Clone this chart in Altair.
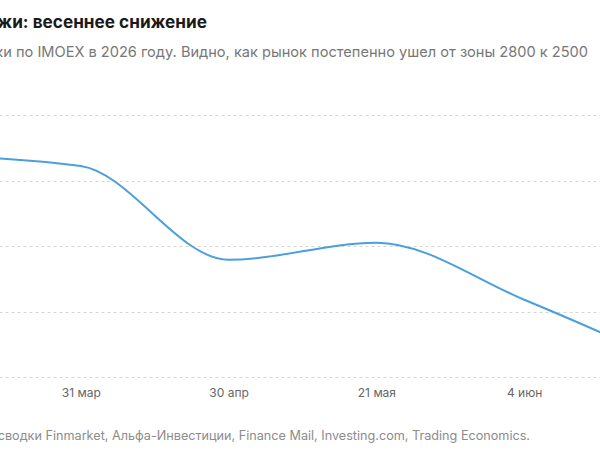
import altair as alt
import pandas as pd

# Data (points at the left/right edges lie outside the visible crop)
dates = ["2 мар", "31 мар", "30 апр", "21 мая", "4 июн", "18 июн"]
values = [2838, 2822, 2679, 2705, 2618, 2520]
y_ticks = [2500, 2600, 2700, 2800, 2900]

title_text = "Индекс Мосбиржи: весеннее снижение"
subtitle_text = "Котировки по IMOEX в 2026 году. Видно, как рынок постепенно ушел от зоны 2800 к 2500"
footer_text = "Источники: сводки Finmarket, Альфа-Инвестиции, Finance Mail, Investing.com, Trading Economics."

FONT = "Inter"
df = pd.DataFrame({"date": dates, "value": values})

x_enc = alt.X(
    "date:O",
    sort=dates,
    scale=alt.Scale(type="point", range=[-67, 672], padding=0),
    axis=alt.Axis(
        title=None, domain=False, ticks=False, grid=False, labelAngle=0,
        labelFontSize=12, labelColor="#666666", labelPadding=10, labelFont=FONT,
        labelOverlap=False,
    ),
)
y_enc = alt.Y(
    "value:Q",
    scale=alt.Scale(domain=[2500, 2900], nice=False, zero=False),
    axis=alt.Axis(
        values=y_ticks, title=None, domain=False, ticks=False, grid=True,
        gridDash=[3, 3], gridColor="#d6d6d6", gridWidth=1,
        labelColor="#888888", labelPadding=12, labelFont=FONT,
    ),
)

line = alt.Chart(df).mark_line(
    interpolate="monotone", color="#4a9fdc", strokeWidth=2, clip=True
).encode(x=x_enc, y=y_enc)

title = alt.Chart(pd.DataFrame({"t": [title_text]})).mark_text(
    align="right", baseline="alphabetic", fontSize=17.2, fontWeight="bold",
    font=FONT, color="#1a1a1a",
).encode(x=alt.value(207), y=alt.value(28 - 115), text="t:N")

subtitle = alt.Chart(pd.DataFrame({"t": [subtitle_text]})).mark_text(
    align="right", baseline="alphabetic", fontSize=14.6,
    font=FONT, color="#777777",
).encode(x=alt.value(588), y=alt.value(57 - 115), text="t:N")

footer = alt.Chart(pd.DataFrame({"t": [footer_text]})).mark_text(
    align="right", baseline="alphabetic", fontSize=12.65,
    font=FONT, color="#8c8c8c",
).encode(x=alt.value(530), y=alt.value(440 - 115), text="t:N")

chart = alt.layer(line, title, subtitle, footer).properties(
    width=600,
    height=262,
    autosize=alt.AutoSizeParams(type="none"),
    padding={"left": 0, "right": 0, "top": 115, "bottom": 73},
).configure(background="white", view=alt.ViewConfig(strokeWidth=0))

chart.save("out.html", embed_options={"renderer": "svg", "actions": False})
